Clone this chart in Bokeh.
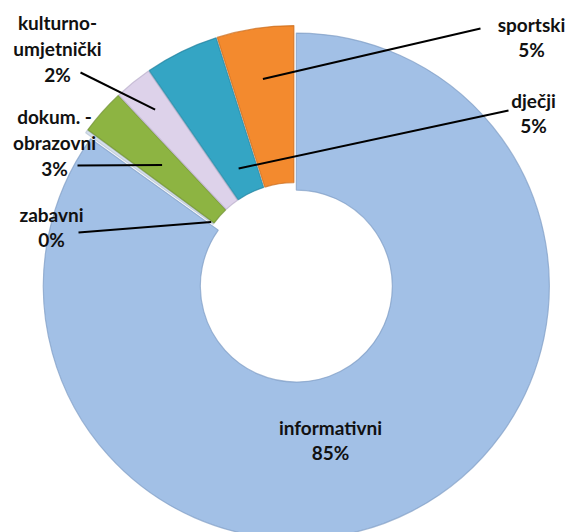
import numpy as np
from bokeh.plotting import figure
from bokeh.models import Range1d, ColumnDataSource
from bokeh.core.properties import value
from bokeh.embed import file_html
from bokeh.resources import INLINE

# ---- data ----
categories = ["informativni", "zabavni", "dokum. -\nobrazovni",
              "kulturno-\numjetnički", "dječji", "sportski"]
values = [84.9, 0.2, 2.9, 2.4, 4.7, 4.9]
colors = ["#A2C0E6", "#D5DFEC", "#8DB442", "#DDD2EA", "#34A5C4", "#F38A2E"]
edge_colors = ["#7F9CC4", "#B8C4D4", "#6E8F30", "#B9AECB", "#2583A0", "#C96A18"]

# ---- layout (pixel-like coordinates, y up) ----
W_FIG, H_FIG = 566, 532
H = H_FIG
C0 = (294.0, H - 282.0)
EXPLODE = 4.0
R_OUT, R_IN = 253.0, 96.0

vals = np.array(values)
cum = np.cumsum(vals)
th1 = 360.0 * (cum - vals) / vals.sum()
th2 = 360.0 * cum / vals.sum()
mid = (th1 + th2) / 2.0
cx = C0[0] + EXPLODE * np.sin(np.radians(mid))
cy = C0[1] + EXPLODE * np.cos(np.radians(mid))

src = ColumnDataSource(dict(
    x=cx, y=cy, start=90.0 - th2, end=90.0 - th1,
    color=colors, edge=edge_colors,
))

p = figure(width=W_FIG, height=H_FIG, output_backend="svg", toolbar_location=None,
           x_range=Range1d(0, W_FIG), y_range=Range1d(0, H_FIG),
           min_border=0)
p.axis.visible = False
p.grid.visible = False
p.outline_line_color = None
p.background_fill_color = "white"

p.annular_wedge(x="x", y="y", inner_radius=R_IN, outer_radius=R_OUT,
                start_angle="start", end_angle="end", start_angle_units="deg",
                end_angle_units="deg", direction="anticlock",
                fill_color="color", line_color="edge", line_width=1.2,
                line_alpha=0.7, source=src)

# ---- labels ----
pct = [f"{round(v)}%" for v in values]
label_text = [f"{c}\n{q}" for c, q in zip(categories, pct)]
label_px = [330, 51, 54, 57, 533, 531]
label_py = [439.5, 226.5, 142, 48, 112.5, 36.5]
leader_r = [None, 99, 173, 218, 123, 202]
leader_end = [None, (78, 232), (77, 165), (80, 72), (508, 110), (480, 28)]

p.text(x=label_px, y=[H - v for v in label_py], text=label_text,
       text_font=value("Lato"), text_font_style="bold", text_font_size="19px",
       text_align="center", text_baseline="middle", text_line_height=1.13,
       text_color="#111111")

for i in range(len(values)):
    if leader_r[i] is None:
        continue
    a = np.radians(mid[i])
    x0 = cx[i] + leader_r[i] * np.sin(a)
    y0 = cy[i] + leader_r[i] * np.cos(a)
    ex, ey = leader_end[i]
    p.line([x0, ex], [y0, H - ey], line_color="black", line_width=2)

open("out.html", "w").write(file_html(p, INLINE))
